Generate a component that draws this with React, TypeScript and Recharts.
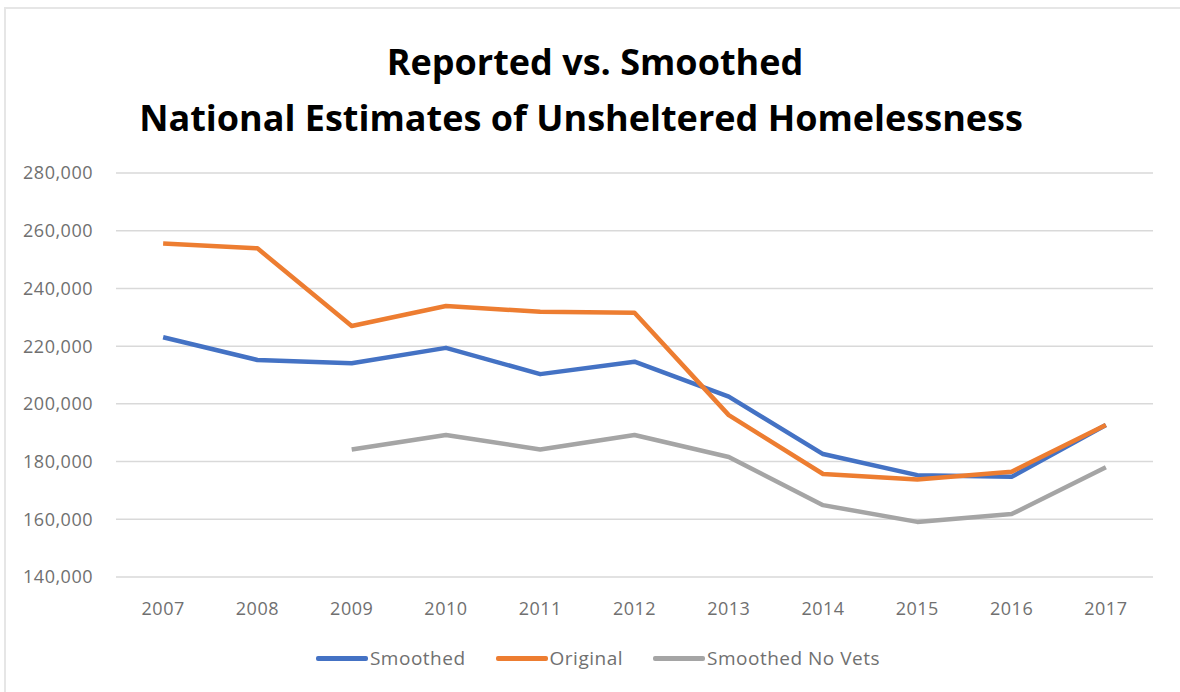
import React from 'react';
import { LineChart, Line, XAxis, YAxis, CartesianGrid } from 'recharts';

const years = ['2007', '2008', '2009', '2010', '2011', '2012', '2013', '2014', '2015', '2016', '2017'];
const smoothed = [223100, 215200, 214100, 219400, 210300, 214600, 202500, 182600, 175300, 174700, 192700];
const original = [255600, 253900, 227000, 233900, 231900, 231600, 196100, 175700, 173800, 176500, 192700];
const smoothedNoVets = [null, null, 184200, 189200, 184200, 189200, 181600, 164900, 159100, 161800, 178000];
const yTicks = [140000, 160000, 180000, 200000, 220000, 240000, 260000, 280000];

const seriesNames = ['Smoothed', 'Original', 'Smoothed No Vets'];
const seriesKeys = ['smoothed', 'original', 'noVets'];
const seriesColors = ['#4472C4', '#ED7D31', '#A5A5A5'];

const data = years.map((y, i) => ({
  year: y,
  smoothed: smoothed[i],
  original: original[i],
  noVets: smoothedNoVets[i],
}));

const FONT = '"Open Sans", sans-serif';

export default function App() {
  return (
    <div style={{ position: 'absolute', left: 0, top: 0, width: 1180, height: 692, background: '#fff', fontFamily: FONT, overflow: 'hidden' }}>
      <div style={{ position: 'absolute', left: 4, top: 7, right: 0, bottom: 0, borderTop: '2px solid #e6e6e6', borderLeft: '2px solid #e6e6e6' }} />
      <div style={{ position: 'absolute', left: 0, width: 1190, top: 37, textAlign: 'center', fontWeight: 700, fontSize: 36, lineHeight: '50px', color: '#000' }}>
        Reported vs. Smoothed
      </div>
      <div style={{ position: 'absolute', left: 0, width: 1162, top: 93, textAlign: 'center', fontWeight: 700, fontSize: 36, lineHeight: '50px', color: '#000' }}>
        National Estimates of Unsheltered Homelessness
      </div>
      <div style={{ position: 'absolute', left: 0, top: 0 }}>
        <LineChart width={1180} height={692} data={data} margin={{ top: 173, right: 27, bottom: 85, left: 0 }}>
          <CartesianGrid vertical={false} stroke="#d9d9d9" strokeWidth={1.5} />
          <XAxis
            dataKey="year"
            scale="band"
            axisLine={false}
            tickLine={false}
            tickSize={6}
            tickMargin={19}
            height={30}
            tick={{ fill: '#707070', fontSize: 18, fontFamily: FONT, letterSpacing: 0.5 }}
          />
          <YAxis
            type="number"
            domain={[140000, 280000]}
            ticks={yTicks}
            width={116}
            axisLine={false}
            tickLine={false}
            tickSize={6}
            tickMargin={17}
            tickFormatter={(v: number) => v.toLocaleString('en-US')}
            tick={{ fill: '#707070', fontSize: 18, fontFamily: FONT, letterSpacing: 0.5 }}
          />
          {seriesKeys.map((k, i) => (
            <Line
              key={k}
              type="linear"
              dataKey={k}
              name={seriesNames[i]}
              stroke={seriesColors[i]}
              strokeWidth={4.5}
              dot={false}
              activeDot={false}
              isAnimationActive={false}
              strokeLinejoin="round"
            />
          ))}
        </LineChart>
      </div>
      <div style={{ position: 'absolute', left: 0, width: 1226, top: 645, display: 'flex', justifyContent: 'center', alignItems: 'center', height: 26 }}>
        {seriesNames.map((n, i) => (
          <div key={n} style={{ display: 'flex', alignItems: 'center', marginRight: 30 }}>
            <div style={{ width: 52, height: 5, background: seriesColors[i], borderRadius: 2 }} />
            <span style={{ marginLeft: 2, fontSize: 19, color: '#707070', letterSpacing: 0.5 }}>{n}</span>
          </div>
        ))}
      </div>
    </div>
  );
}
